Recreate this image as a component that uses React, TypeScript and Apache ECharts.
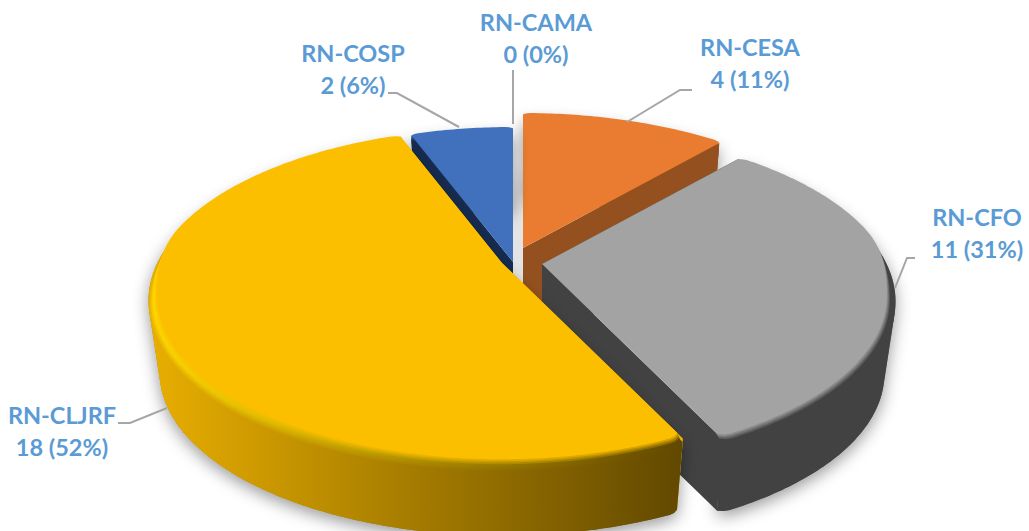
import React, { useEffect, useRef } from "react";
import * as echarts from "echarts";

const categories = ["RN-CAMA", "RN-CESA", "RN-CFO", "RN-CLJRF", "RN-COSP"];
const values = [0, 4, 11, 18, 2];
const percents = [0, 11, 31, 52, 6];

// per-slice look
const topColors = ["#5B9BD5", "#E97C30", "#A3A3A3", "#FBBF00", "#4170BD"];
const rimColors = ["#5B9BD5", "#C9682A", "#7A7A7A", "#FFD800", "#2F5597"];
const wallLeft = ["#5B9BD5", "#94511F", "#424242", "#E8AE00", "#162C50"];
const wallRight = ["#5B9BD5", "#94511F", "#424242", "#624900", "#162C50"];
const sliceTips = [[518, 255], [523, 248], [542, 264], [502, 263], [513, 262]];
const sliceOrder = [0, 1, 4, 2, 3];

// label placement
const labelAnchors = [[536, 38], [750, 63], [977, 233], [62, 431], [353, 69]];
const leaderLines = [
  [[513, 70], [513, 124]],
  [[692, 90], [680, 90], [627, 122]],
  [[915, 258], [907, 258], [895, 288]],
  [[118, 423], [130, 423], [167, 408]],
  [[388, 93], [397, 93], [459, 127]],
];

const RX = 347, RY = 162, PERSP = 0.2, DEPTH = 77, BOTTOM_SCALE = 0.967, BEVEL = 0.025, BEVEL_Z = 0.1;
const CORNER = (1.6 * Math.PI) / 180, CORNER_CUT = 0.012;
const total = values.reduce((a, b) => a + b, 0);
const starts: number[] = [];
values.reduce((acc, v, i) => { starts[i] = acc; return acc + v; }, 0);

function project(tip: number[], theta: number, r: number, z: number): number[] {
  const s = 1 / (1 + PERSP * r * Math.cos(theta));
  const f = 1 - (1 - BOTTOM_SCALE) * z;
  return [
    tip[0] + RX * r * f * Math.sin(theta) * s,
    tip[1] + DEPTH * z - RY * r * f * Math.cos(theta) * s,
  ];
}

// how far the flat top stops short of the rim: none at the back, full at the front
function bevelAt(theta: number): number {
  const u = Math.min(1, Math.max(0, (0.25 - Math.cos(theta)) / 0.45));
  return BEVEL * u * u * (3 - 2 * u);
}

// rounds the outer corners of a slice
function cornerAt(theta: number, a: number, b: number): number {
  const d = Math.min(theta - a, b - theta);
  if (d >= CORNER) return 0;
  const u = 1 - d / CORNER;
  return CORNER_CUT * u * u;
}

function arc(tip: number[], a: number, b: number, f: (t: number) => number[]): number[][] {
  const step = (0.8 * Math.PI) / 180;
  const n = Math.max(8, Math.ceil((b - a) / step));
  const out: number[][] = [];
  for (let i = 0; i <= n; i++) {
    const t = a + ((b - a) * i) / n;
    const [r, z] = f(t);
    out.push(project(tip, t, r - cornerAt(t, a, b), z));
  }
  return out;
}

// outline of the extruded rim; where the hull would cut straight across a
// slice wider than a half turn it goes through the slice's tip instead
function wallOutline(topArc: number[][], bottomArc: number[][], centre: number[]): number[][] {
  const p = [...topArc, ...bottomArc].sort((u, v) => u[0] - v[0] || u[1] - v[1]);
  const cross = (o: number[], u: number[], v: number[]) =>
    (u[0] - o[0]) * (v[1] - o[1]) - (u[1] - o[1]) * (v[0] - o[0]);
  const lower: number[][] = [];
  for (const q of p) {
    while (lower.length >= 2 && cross(lower[lower.length - 2], lower[lower.length - 1], q) <= 0) lower.pop();
    lower.push(q);
  }
  const upper: number[][] = [];
  for (const q of [...p].reverse()) {
    while (upper.length >= 2 && cross(upper[upper.length - 2], upper[upper.length - 1], q) <= 0) upper.pop();
    upper.push(q);
  }
  const h = [...lower.slice(0, -1), ...upper.slice(0, -1)];
  const first = topArc[0], last = topArc[topArc.length - 1];
  const out: number[][] = [];
  h.forEach((q, k) => {
    out.push(q);
    const nxt = h[(k + 1) % h.length];
    if ((q === first && nxt === last) || (q === last && nxt === first)) out.push(centre);
  });
  return out;
}

function hex(c: string): number[] {
  return [1, 3, 5].map((i) => parseInt(c.slice(i, i + 2), 16));
}
function mix(a: string, b: string, t: number): string {
  const A = hex(a), B = hex(b);
  return `rgb(${A.map((v, i) => Math.round(v + (B[i] - v) * t)).join(",")})`;
}
function gradient(left: string, right: string) {
  return {
    type: "linear", x: 150, y: 0, x2: 680, y2: 0, global: true,
    colorStops: [{ offset: 0, color: left }, { offset: 1, color: right }],
  };
}

function renderItem(params: any, api: any) {
  const i = params.dataIndex as number;
  const value = api.value(1) as number;
  const children: any[] = [];
  const order = sliceOrder.indexOf(i) * 40 + 10;
  if (value > 0) {
    const tip = sliceTips[i];
    const a = (starts[i] / total) * Math.PI * 2;
    const b = ((starts[i] + value) / total) * Math.PI * 2;
    const top = topColors[i], rim = rimColors[i], wl = wallLeft[i], wr = wallRight[i];
    const wallFill = gradient(wl, wr);
    const bottomTip = project(tip, a, 0, 1);
    const wallPts = wallOutline(
      arc(tip, a, b, () => [1, 0.05]),
      arc(tip, a, b, () => [1, 1]),
      project(tip, a, 0, 0.05),
    );
    children.push({
      type: "polygon", z2: order,
      shape: { points: wallPts },
      style: { fill: "#888888", shadowBlur: 16, shadowColor: "rgba(0,0,0,0.4)", shadowOffsetX: 0, shadowOffsetY: 5 },
    });
    [a, b].forEach((t) => {
      children.push({
        type: "polygon", z2: order + 1,
        shape: { points: [tip, project(tip, t, 1 - CORNER_CUT, 0), project(tip, t, 1 - CORNER_CUT, 1), bottomTip] },
        style: { fill: wl },
      });
    });
    children.push({
      type: "polygon", z2: order + 2,
      shape: { points: wallPts },
      style: { fill: wallFill },
    });
    const N = 8;
    const inner = arc(tip, a, b, (t) => [1 - bevelAt(t) - 0.01, 0]);
    for (let k = N; k >= 1; k--) {
      const t = k / N;
      const outer = arc(tip, a, b, (th) => [1 - bevelAt(th) * (1 - t), BEVEL_Z * t]).reverse();
      const left = t < 0.5 ? mix(top, rim, t * 2) : mix(rim, wl, t * 2 - 1);
      const right = t < 0.5 ? mix(top, wr, t * 2) : wr;
      children.push({
        type: "polygon", z2: order + 3 + (N - k),
        shape: { points: [...inner, ...outer] },
        style: { fill: gradient(left, right) },
      });
    }
    children.push({
      type: "polygon", z2: order + 20,
      shape: { points: [tip, ...arc(tip, a, b, (t) => [1 - bevelAt(t), 0])] },
      style: { fill: top },
    });
  } else {
    // soft shadow showing through the gap between the neighbouring slices
    children.push({
      type: "rect", z2: 5,
      shape: { x: 512, y: 165, width: 12, height: 120 },
      style: {
        fill: {
          type: "linear", x: 0, y: 0, x2: 0, y2: 1,
          colorStops: [{ offset: 0, color: "#FFFFFF" }, { offset: 0.35, color: "#E6E6E6" }, { offset: 1, color: "#E2E2E2" }],
        },
      },
    });
  }
  children.push({
    type: "polyline", z2: 500,
    shape: { points: leaderLines[i] },
    style: { stroke: "#A6A6A6", lineWidth: 2, fill: "none" },
  });
  children.push({
    type: "text", z2: 501,
    style: {
      text: `${categories[i]}\n${value} (${percents[i]}%)`,
      x: labelAnchors[i][0], y: labelAnchors[i][1],
      fill: "#5B9BD5", font: "bold 23.5px Lato", lineHeight: 32,
      textAlign: "center", textVerticalAlign: "middle",
    },
  });
  return { type: "group", children };
}

export default function App() {
  const ref = useRef<HTMLDivElement>(null);
  useEffect(() => {
    const chart = echarts.init(ref.current!, undefined, { renderer: "svg" });
    chart.setOption({
      animation: false,
      backgroundColor: "#ffffff",
      series: [{
        type: "custom",
        coordinateSystem: "none",
        silent: true,
        clip: false,
        data: values.map((v, i) => [i, v]),
        renderItem,
      }],
    });
    return () => chart.dispose();
  }, []);
  return <div ref={ref} style={{ position: "absolute", left: 0, top: 0, width: 1029, height: 531 }} />;
}
